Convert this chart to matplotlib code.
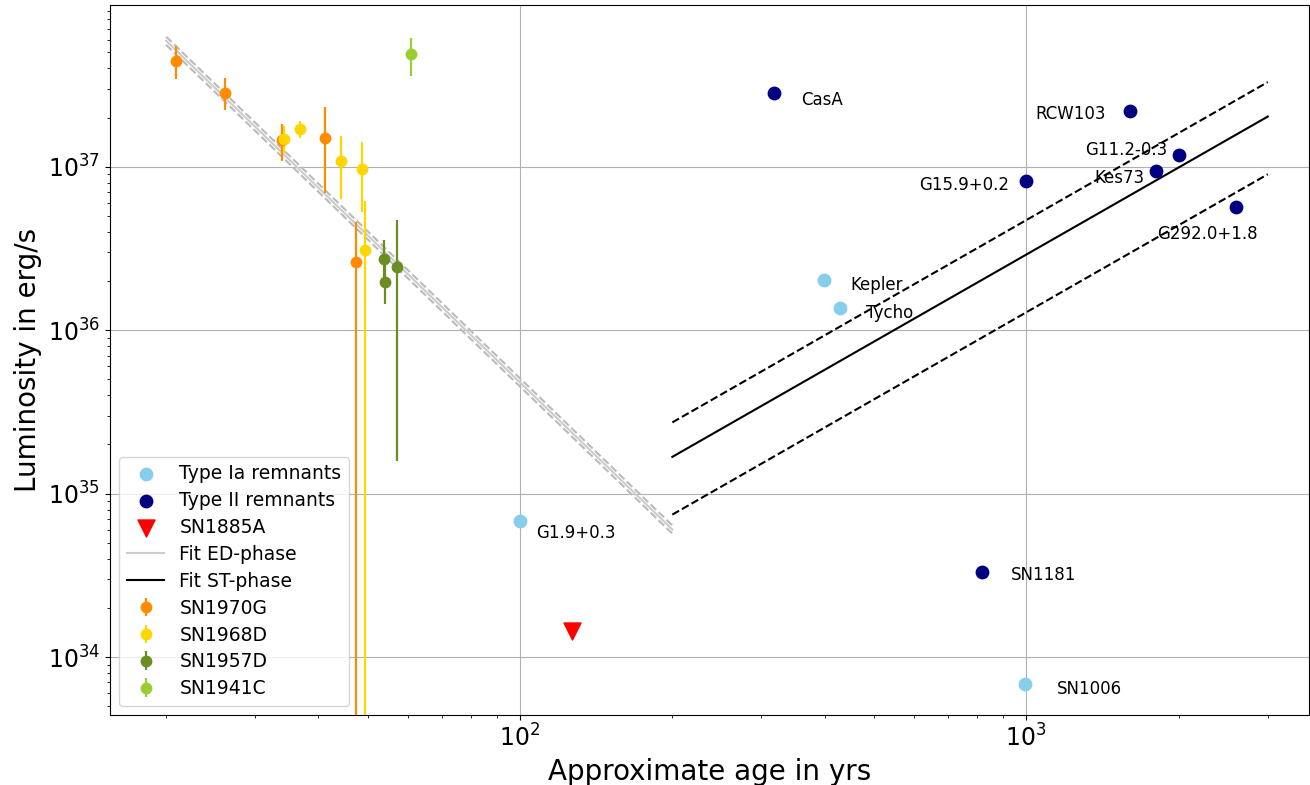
import matplotlib
matplotlib.use("Agg")
import matplotlib.pyplot as plt
import numpy as np

# remnants (age in yrs, luminosity in erg/s)
ia_names = ["G1.9+0.3", "Kepler", "Tycho", "SN1006"]
ia_age = [100, 398, 428, 995]
ia_lum = [6.84e34, 2.04e36, 1.37e36, 6.89e33]

ii_names = ["CasA", "RCW103", "G11.2-0.3", "Kes73", "G15.9+0.2", "G292.0+1.8", "SN1181"]
ii_age = [318, 1604, 2003, 1805, 1000, 2596, 819]
ii_lum = [2.84e37, 2.20e37, 1.18e37, 9.45e36, 8.21e36, 5.69e36, 3.33e34]

sn1885a_age = [127]
sn1885a_lum = [1.45e34]

# young supernovae with error intervals (lower bound 0 -> bar runs off the axis)
sn1970g_age = [20.9, 26.1, 33.9, 41.2, 47.4]
sn1970g_lum = [4.45e37, 2.82e37, 1.46e37, 1.50e37, 2.61e36]
sn1970g_lo = [3.43e37, 2.23e37, 1.09e37, 6.9e36, 0]
sn1970g_hi = [5.44e37, 3.47e37, 1.82e37, 2.32e37, 4.62e36]

sn1968d_age = [34.2, 36.8, 44.3, 48.8, 49.4]
sn1968d_lum = [1.48e37, 1.70e37, 1.09e37, 9.68e36, 3.08e36]
sn1968d_lo = [1.22e37, 1.50e37, 6.37e36, 5.25e36, 0]
sn1968d_hi = [1.78e37, 1.91e37, 1.55e37, 1.42e37, 6.14e36]

sn1957d_age = [53.8, 54.2, 57.1]
sn1957d_lum = [2.74e36, 1.97e36, 2.42e36]
sn1957d_lo = [2.04e36, 1.45e36, 1.59e35]
sn1957d_hi = [3.57e36, 2.62e36, 4.70e36]

sn1941c_age = [61.0]
sn1941c_lum = [4.89e37]
sn1941c_lo = [3.60e37]
sn1941c_hi = [6.12e37]

# power-law fits L = norm * (t / t0)^index
ed_t0, ed_norm, ed_index, ed_spread = 20.0, 5.9e37, -2.99, 10**0.025
st_t0, st_index = 200.0, 1.77
st_norm, st_norm_hi, st_norm_lo = 1.68e35, 2.73e35, 7.45e34

label_offsets = {
    "G1.9+0.3": (16, -12, "left"), "Kepler": (27, -5, "left"), "Tycho": (26, -5, "left"),
    "SN1006": (32, -5, "left"), "CasA": (27, -7, "left"), "RCW103": (-24, -3, "right"),
    "G11.2-0.3": (-12, 5, "right"), "Kes73": (-12, -7, "right"),
    "G15.9+0.2": (-17, -4, "right"), "G292.0+1.8": (22, -27, "right"), "SN1181": (29, -3, "left"),
}

fig, ax = plt.subplots(figsize=(13.1, 7.85), dpi=100)
fig.subplots_adjust(left=0.084, right=0.999, top=0.994, bottom=0.089)

h_ia = ax.scatter(ia_age, ia_lum, s=80, color="skyblue", label="Type Ia remnants", zorder=3)
h_ii = ax.scatter(ii_age, ii_lum, s=80, color="navy", label="Type II remnants", zorder=3)
h_85 = ax.scatter(sn1885a_age, sn1885a_lum, s=150, marker="v", color="red", label="SN1885A", zorder=3)

t_ed = np.array([20, 200])
l_ed = ed_norm * (t_ed / ed_t0) ** ed_index
h_ed, = ax.plot(t_ed, l_ed, color="#cccccc", lw=1.5, label="Fit ED-phase")
ax.plot(t_ed, l_ed * ed_spread, color="#bbbbbb", lw=1.5, ls="--")
ax.plot(t_ed, l_ed / ed_spread, color="#bbbbbb", lw=1.5, ls="--")

t_st = np.array([200, 3000])
h_st, = ax.plot(t_st, st_norm * (t_st / st_t0) ** st_index, color="black", lw=1.5, label="Fit ST-phase")
ax.plot(t_st, st_norm_hi * (t_st / st_t0) ** st_index, color="black", lw=1.5, ls="--")
ax.plot(t_st, st_norm_lo * (t_st / st_t0) ** st_index, color="black", lw=1.5, ls="--")

eb_handles = []
for age, lum, lo, hi, col, name in [
    (sn1970g_age, sn1970g_lum, sn1970g_lo, sn1970g_hi, "darkorange", "SN1970G"),
    (sn1968d_age, sn1968d_lum, sn1968d_lo, sn1968d_hi, "gold", "SN1968D"),
    (sn1957d_age, sn1957d_lum, sn1957d_lo, sn1957d_hi, "olivedrab", "SN1957D"),
    (sn1941c_age, sn1941c_lum, sn1941c_lo, sn1941c_hi, "yellowgreen", "SN1941C"),
]:
    lum = np.array(lum)
    yerr = [lum - np.array(lo), np.array(hi) - lum]
    h = ax.errorbar(age, lum, yerr=yerr, fmt="o", ms=7.5, color=col, elinewidth=1.6, label=name, zorder=2)
    eb_handles.append(h)

for names, ages, lums in [(ia_names, ia_age, ia_lum), (ii_names, ii_age, ii_lum)]:
    for n, a, l in zip(names, ages, lums):
        dx, dy, ha = label_offsets[n]
        ax.annotate(n, (a, l), xytext=(dx, dy), textcoords="offset pixels",
                    ha=ha, va="center", fontsize=12)

ax.set_xscale("log")
ax.set_yscale("log")
ax.set_xlim(15.5, 3614)
ax.set_ylim(4.42e33, 9.8e37)
ax.grid(True)
ax.tick_params(labelsize=17)
ax.set_xlabel("Approximate age in yrs", fontsize=20)
ax.set_ylabel("Luminosity in erg/s", fontsize=20)

ax.legend(handles=[h_ia, h_ii, h_85, h_ed, h_st] + eb_handles, loc="lower left",
          fontsize=13.5, labelspacing=0.42)

fig.savefig("out.png")
